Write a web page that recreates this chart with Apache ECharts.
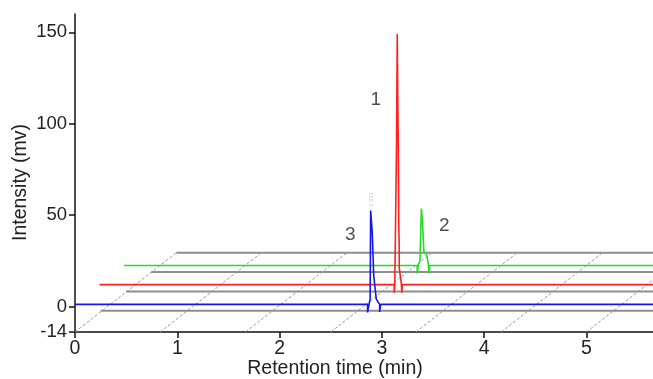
<!DOCTYPE html>
<html>
<head>
<meta charset="utf-8">
<script src="https://cdn.jsdelivr.net/npm/echarts@6/dist/echarts.min.js"></script>
<style>
  html, body { margin: 0; padding: 0; background: #fff; }
  #chart { width: 653px; height: 379px; }
</style>
</head>
<body>
<div id="chart"></div>
<script>
// axis ticks
const xTicks = [0, 1, 2, 3, 4, 5];
const yTicks = [-14, 0, 50, 100, 150];

// pseudo-3D floor: gray levels and where each one starts
const floorLevels = [-2.35, 8.2, 18.8, 29.4];
const floorStarts = [0.25, 0.5, 0.745, 0.99];
// dashed diagonals (start at bottom)
const diagStarts = [0, 0.833, 1.667, 2.5, 3.333, 4.167, 5.0];
const diagRun = 0.99;

// chromatograms [time, mv]
const blueTrace = [
  [0, 1.1], [2.86, 1.1], [2.86, -3.3], [2.872, -3.3], [2.872, 0.5],
  [2.885, 4], [2.89, 52.5], [2.9, 52.5], [2.905, 41], [2.915, 41],
  [2.92, 17], [2.93, 16], [2.945, 4], [2.978, 1.1], [2.978, -3],
  [2.988, -3], [2.988, 1.1], [5.65, 1.1]
];
const redTrace = [
  [0.24, 11.9], [3.12, 11.9], [3.12, 7.5], [3.126, 11.9], [3.14, 12.5],
  [3.143, 89], [3.15, 149], [3.155, 115], [3.16, 89], [3.165, 43],
  [3.168, 37], [3.17, 21], [3.19, 12.4], [3.195, 7.5], [3.2, 11.9], [5.65, 11.9]
];
const greenTrace = [
  [0.48, 22.4], [3.345, 22.4], [3.345, 18], [3.355, 22.4], [3.372, 25],
  [3.386, 53.5], [3.392, 50], [3.398, 45], [3.41, 30], [3.44, 28],
  [3.455, 22.4], [3.462, 18], [3.468, 22.4], [5.65, 22.4]
];

// peak numbers
const peakLabels = [
  { name: '1', value: [2.94, 113] },
  { name: '2', value: [3.61, 44] },
  { name: '3', value: [2.69, 39.4] }
];
const rtNote = { name: '2.911', value: [2.893, 58.5] };

const FONT = 'Liberation Sans, Arial, sans-serif';
const chart = echarts.init(document.getElementById('chart'));

const series = [];

floorLevels.forEach((lv, i) => {
  series.push({
    type: 'line', symbol: 'none', silent: true, z: 1,
    data: [[floorStarts[i], lv], [5.65, lv]],
    lineStyle: { color: '#8e8e8e', width: 2 }
  });
});

diagStarts.forEach((x0) => {
  series.push({
    type: 'line', symbol: 'none', silent: true, z: 1,
    data: [[x0, -14], [x0 + diagRun, 29.4]],
    lineStyle: { color: '#9a9a9a', width: 1, type: [3, 2] }
  });
});

series.push({
  type: 'line', symbol: 'none', z: 3, data: greenTrace,
  lineStyle: { color: '#22dd22', width: 1.6 }
});
series.push({
  type: 'line', symbol: 'none', z: 4, data: redTrace,
  lineStyle: { color: '#ff2020', width: 1.6 }
});
series.push({
  type: 'line', symbol: 'none', z: 5, data: blueTrace,
  lineStyle: { color: '#1515f0', width: 1.6 }
});

series.push({
  type: 'scatter', symbolSize: 0, z: 6, data: peakLabels,
  label: {
    show: true, position: 'inside', formatter: '{b}',
    fontFamily: FONT, fontSize: 19, color: '#222'
  }
});
series.push({
  type: 'scatter', symbolSize: 0, z: 6, data: [rtNote],
  label: {
    show: true, position: 'inside', formatter: '{b}', rotate: 90,
    fontFamily: FONT, fontSize: 6, color: '#bbbbbb'
  }
});

chart.setOption({
  backgroundColor: '#fff',
  animation: false,
  grid: { left: 75, right: 0, top: 14, bottom: 47, outerBoundsMode: 'none', containLabel: false },
  xAxis: {
    type: 'value', min: 0, max: 5.65, interval: 1,
    name: 'Retention time (min)', nameLocation: 'middle', nameGap: 27,
    nameMoveOverlap: false,
    nameTextStyle: { fontFamily: FONT, fontSize: 19.5, color: '#222', padding: [0, 58, 0, 0] },
    splitLine: { show: false },
    axisLine: { onZero: false, lineStyle: { color: '#111', width: 1.5 } },
    axisTick: { length: 6, lineStyle: { color: '#111', width: 1.5 } },
    axisLabel: {
      fontFamily: FONT, fontSize: 19.5, color: '#222', margin: 7,
      showMaxLabel: false,
      formatter: (v) => (xTicks.includes(v) ? String(v) : '')
    }
  },
  yAxis: {
    type: 'value', min: -14, max: 160,
    name: 'Intensity (mv)', nameLocation: 'middle', nameGap: 44,
    nameMoveOverlap: false,
    nameTextStyle: { fontFamily: FONT, fontSize: 19.5, color: '#222', padding: [0, 19, 0, 0] },
    splitLine: { show: false },
    axisLine: { show: true, lineStyle: { color: '#111', width: 1.5 } },
    axisTick: { show: true, length: 6, customValues: yTicks, lineStyle: { color: '#111', width: 1.5 } },
    axisLabel: {
      fontFamily: FONT, fontSize: 18.5, color: '#222', margin: 8,
      customValues: yTicks
    }
  },
  series: series
});
</script>
</body>
</html>
